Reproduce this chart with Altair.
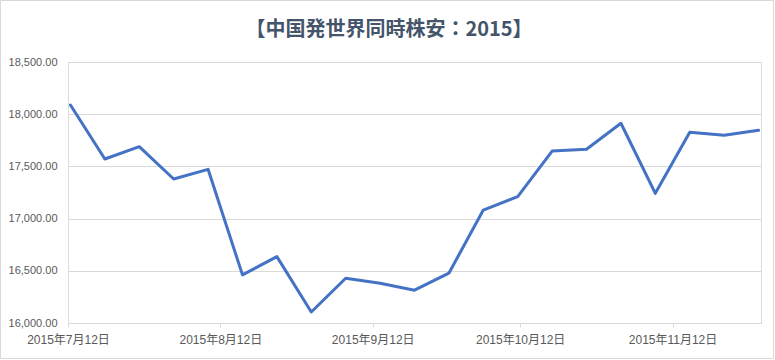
import altair as alt
import pandas as pd

# Weekly dates (Excel date axis, points placed mid-day)
dates = ["2015-07-12", "2015-07-19", "2015-07-26", "2015-08-02", "2015-08-09",
         "2015-08-16", "2015-08-23", "2015-08-30", "2015-09-06", "2015-09-13",
         "2015-09-20", "2015-09-27", "2015-10-04", "2015-10-11", "2015-10-18",
         "2015-10-25", "2015-11-01", "2015-11-08", "2015-11-15", "2015-11-22",
         "2015-11-29"]
values = [18088, 17571, 17689, 17379, 17472,
          16461, 16636, 16105, 16429, 16381,
          16314, 16477, 17082, 17210, 17647,
          17664, 17913, 17242, 17827, 17798,
          17846]
tick_dates = [(2015, 7, 12), (2015, 8, 12), (2015, 9, 12), (2015, 10, 12), (2015, 11, 12)]
y_ticks = [16000, 16500, 17000, 17500, 18000, 18500]
title_text = "【中国発世界同時株安：2015】"

df = pd.DataFrame({
    "date": pd.to_datetime(dates).tz_localize("UTC") + pd.Timedelta(hours=12),
    "value": values,
})

W, H = 693, 261

x_enc = alt.X(
    "date:T",
    scale=alt.Scale(
        type="utc",
        domain=[alt.DateTime(year=2015, month=7, date=12, utc=True),
                alt.DateTime(year=2015, month=11, date=30, utc=True)],
    ),
    axis=alt.Axis(
        values=[alt.DateTime(year=y, month=m, date=d, utc=True) for (y, m, d) in tick_dates],
        labelExpr="utcFormat(datum.value, '%Y年%-m月%d日')",
        grid=False,
        domainColor="#D9D9D9",
        tickColor="#D9D9D9",
        tickSize=4,
        labelPadding=7,
        labelFont="Liberation Sans, Noto Sans CJK JP",
        labelFontSize=12,
        labelColor="#595959",
        labelFlush=False,
        labelOverlap=False,
        title=None,
    ),
)

y_enc = alt.Y(
    "value:Q",
    scale=alt.Scale(domain=[16000, 18500], nice=False, zero=False),
    axis=alt.Axis(
        values=y_ticks,
        format=",.2f",
        grid=True,
        gridColor="#D9D9D9",
        gridWidth=1,
        domain=False,
        ticks=False,
        labelPadding=11,
        labelFont="Liberation Sans",
        labelFontSize=11,
        labelColor="#595959",
        title=None,
    ),
)

frame = alt.Chart(pd.DataFrame({"a": [0]})).mark_rect(
    fill=None, stroke="#D9D9D9", strokeWidth=1
).encode(
    x=alt.value(-67.5), x2=alt.value(705.5),
    y=alt.value(-61.5), y2=alt.value(296.5),
)

line = alt.Chart(df).mark_line(
    color="#4472C4", strokeWidth=3, strokeJoin="round", strokeCap="round"
).encode(x=x_enc, y=y_enc)

chart = alt.layer(line, frame).properties(
    width=W, height=H,
    title=alt.TitleParams(
        title_text,
        font="Noto Sans CJK JP",
        fontSize=20,
        fontWeight="bold",
        color="#44546A",
        anchor="middle",
        frame="bounds",
        dx=2,
        offset=-40,
    ),
    autosize=alt.AutoSizeParams(type="none"),
    padding={"left": 68, "top": 62, "right": 14, "bottom": 37},
).configure_view(stroke=None).configure(background="white")

chart.save("out.html", embed_options={"renderer": "svg", "actions": False})
